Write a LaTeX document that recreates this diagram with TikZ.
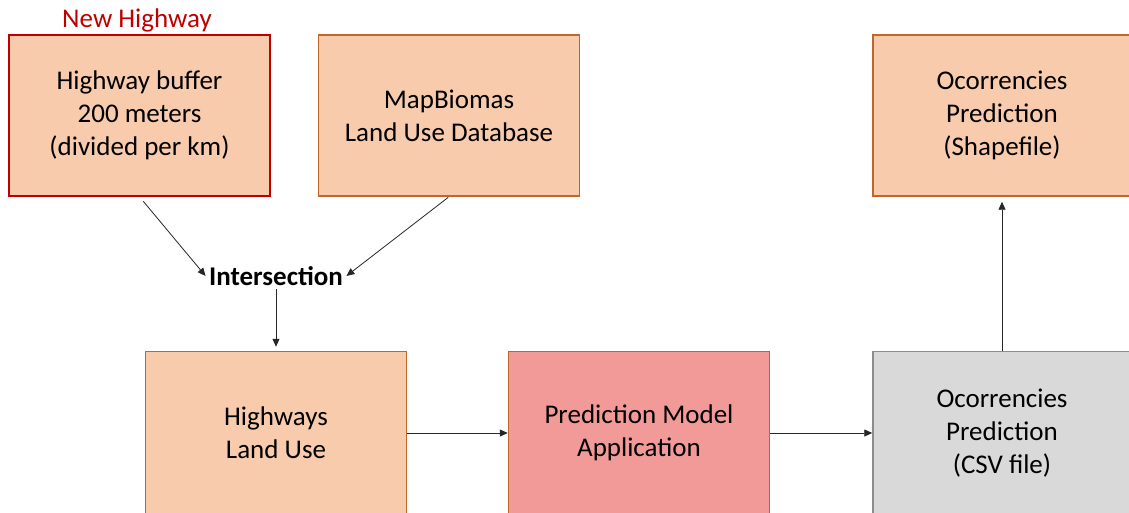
\documentclass[tikz,border=0pt]{standalone}
\usepackage{fontspec}
\setmainfont{Carlito}
\usetikzlibrary{positioning}
\usetikzlibrary{arrows.meta}

\definecolor{peach}{HTML}{F8CBAD}
\definecolor{boxedge}{HTML}{C0662B}
\definecolor{newred}{HTML}{C00000}
\definecolor{modelfill}{HTML}{F29A98}
\definecolor{csvfill}{HTML}{D9D9D9}
\definecolor{csvedge}{HTML}{8C8C8C}

\begin{document}
\begin{tikzpicture}[x=1pt,y=1pt,
        box/.style={rectangle,draw=boxedge,fill=peach,line width=1.5pt,
                    minimum width=261pt,minimum height=161pt,align=center,
                    font=\fontsize{27}{33}\selectfont},
        flow/.style={arrows=-{Triangle[length=8pt,width=7pt]},line width=0.8pt,draw=black!85}]

            % \draw [help lines] (0,0) grid (1129,512);
            \useasboundingbox (0,0) rectangle (1129,512);

            \path   (137,492) node (newhw) [text=newred,font=\fontsize{27}{33}\selectfont] {New Highway}
                    (139.5,396.5) node (buffer) [box,draw=newred] {Highway buffer\\200 meters\\(divided per km)}
                    (449,396.5) node (mapbio) [box] {MapBiomas\\Land Use Database}
                    (1002,396.5) node (shape) [box,minimum width=258pt] {Ocorrencies\\Prediction\\(Shapefile)}
                    (276,236) node (inter) [font=\bfseries\fontsize{27}{33}\selectfont] {Intersection}
                    (276,79) node (landuse) [box,minimum height=163pt] {Highways\\Land Use}
                    (639,79) node (model) [box,fill=modelfill,minimum height=163pt] {Prediction Model\\Application}
                    (1002,79) node (csv) [box,fill=csvfill,draw=csvedge,minimum width=258pt,minimum height=163pt] {Ocorrencies\\Prediction\\(CSV file)};

            \draw[flow,shorten <=6pt] (buffer.south) -- (inter.west);
            \draw[flow,shorten <=1pt] (mapbio.south) -- (inter.east);
            \draw[flow,shorten >=4pt] (inter.south) -- (landuse.north);
            \draw[flow] (landuse.east) -- (model.west);
            \draw[flow] (model.east) -- (csv.west);
            \draw[flow,shorten >=5pt] (csv.north) -- (shape.south);

\end{tikzpicture}
\end{document}
